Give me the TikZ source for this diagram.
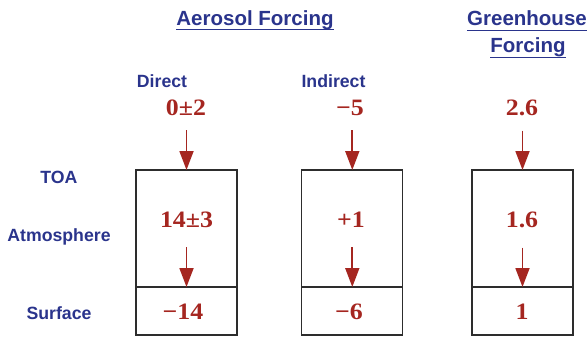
\documentclass[tikz,border=0pt]{standalone}
\usepackage{fontspec}
\setmainfont{Liberation Serif}
\setsansfont{Liberation Sans}
\newfontfamily\valfont[FakeStretch=1.1]{Liberation Serif}
\usepackage{xcolor}
\definecolor{forceblue}{RGB}{42,52,140}
\definecolor{forcered}{RGB}{165,38,32}
\definecolor{boxgray}{RGB}{45,45,45}
\usepackage{tikz}
\usetikzlibrary{arrows.meta, positioning}

\begin{document}
\begin{tikzpicture}[
  x=1pt, y=-1pt,
  layer/.style={rectangle, draw=boxgray, line width=1.3pt, minimum width=101pt,
                inner sep=0pt, outer sep=0pt},
  val/.style={text=forcered, font=\fontsize{23.5}{24}\valfont\bfseries,
              inner sep=0pt, anchor=base},
  lbl/.style={text=forceblue, font=\fontsize{17.7}{18}\selectfont\sffamily\bfseries,
              inner sep=0pt, anchor=base},
  head/.style={lbl, font=\fontsize{20.5}{21}\selectfont\sffamily\bfseries},
  flux/.style={-{Triangle[length=19pt, width=14pt]}, forcered, line width=1.8pt},
  uline/.style={forceblue, line width=1.8pt},
]
\useasboundingbox (0,0) rectangle (587,337);

% Headings
\node[head] (aer) at (255,26) {Aerosol Forcing};
\node[head] (ghg) at (527,26) {Greenhouse};
\node[head] (ghgb) at (528,53) {Forcing};
\draw[uline] ([yshift=-3.5pt]aer.base west) -- ([yshift=-3.5pt]aer.base east);
\draw[uline] ([yshift=-4.5pt]ghg.base west) -- ([yshift=-4.5pt]ghg.base east);
\draw[uline] ([yshift=-4.5pt]ghgb.base west) -- ([yshift=-4.5pt]ghgb.base east);
\node[lbl] (direct) at (162,88) {Direct};
\node[lbl] (indirect) at (333.5,88) {Indirect};

% Layer labels
\node[lbl] (toa) at (59,183) {TOA};
\node[lbl] (atmo) at (59,241) {Atmosphere};
\node[lbl] (surf) at (59,319) {Surface};

% Boxes
\node[layer, minimum height=117pt] (datm) at (186.5,228.5) {};
\node[layer, minimum height=48pt, below=0pt of datm] (dsfc) {};
\node[layer, minimum height=117pt] (iatm) at (352.3,228.5) {};
\node[layer, minimum height=48pt, below=0pt of iatm] (isfc) {};
\node[layer, minimum height=117pt] (gatm) at (522.5,228.5) {};
\node[layer, minimum height=48pt, below=0pt of gatm] (gsfc) {};

% Values
\node[val] (dtop) at (186,116) {0±2};
\node[val] (itop) at (350,116) {−5};
\node[val] (gtop) at (522,116) {2.6};
\node[val] (dmid) at (186.5,227) {14±3};
\node[val] (imid) at (351,227) {+1};
\node[val] (gmid) at (522,227) {1.6};
\node[val] (dbot) at (183,319) {−14};
\node[val] (ibot) at (349,319) {−6};
\node[val] (gbot) at (522,319) {1};

% Arrows
\draw[flux, shorten <=14pt] (dtop.south -| datm.north) -- (datm.north);
\draw[flux, shorten <=14pt] (itop.south -| iatm.north) -- (iatm.north);
\draw[flux, shorten <=14pt] (gtop.south -| gatm.north) -- (gatm.north);
\draw[flux, shorten <=20pt] (dmid.south -| dsfc.north) -- (dsfc.north);
\draw[flux, shorten <=20pt] (imid.south -| isfc.north) -- (isfc.north);
\draw[flux, shorten <=20pt] (gmid.south -| gsfc.north) -- (gsfc.north);

\end{tikzpicture}
\end{document}
